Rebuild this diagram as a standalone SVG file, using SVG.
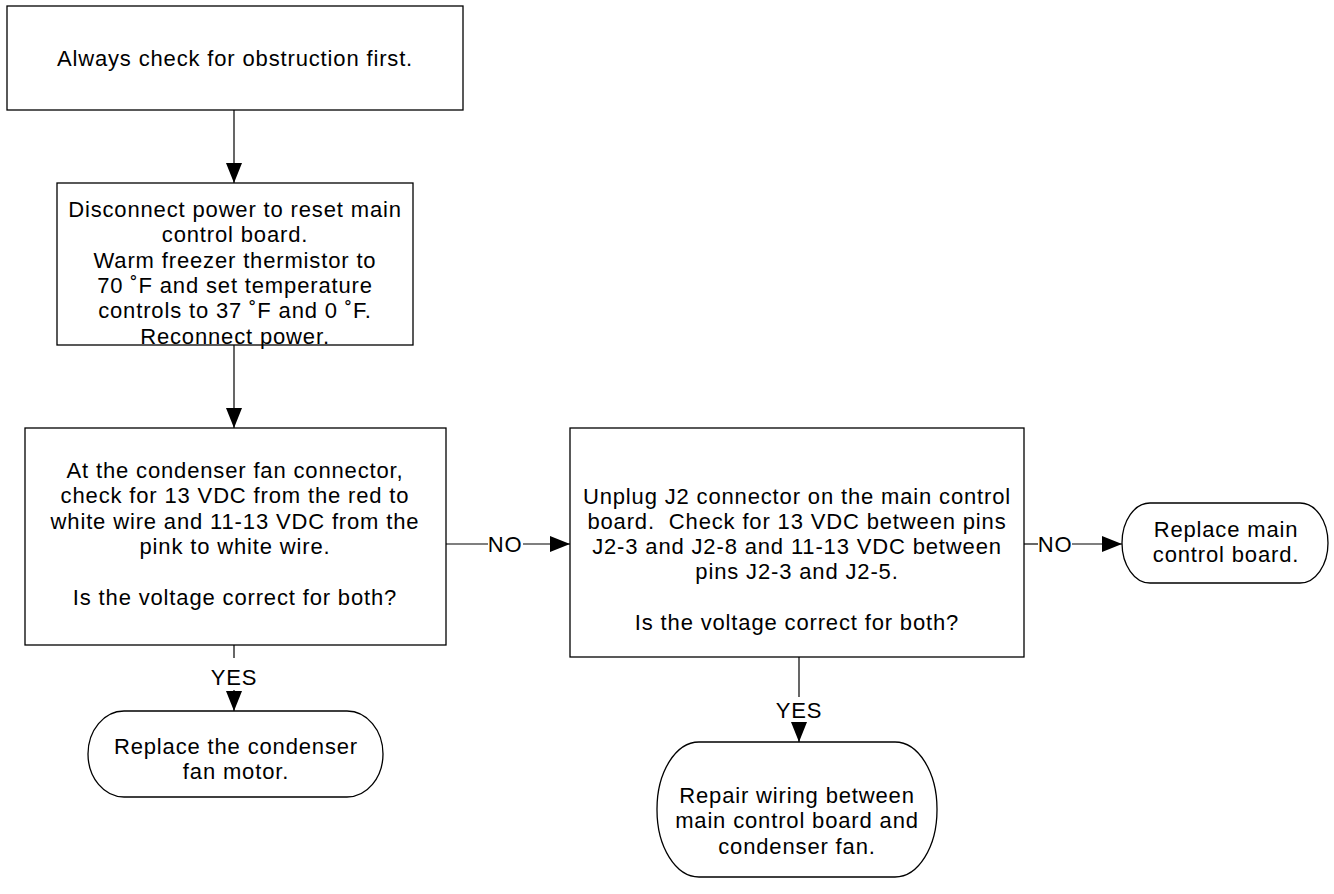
<svg xmlns="http://www.w3.org/2000/svg" width="1334" height="894" viewBox="0 0 1334 894">
<defs>
<marker id="ah" markerUnits="userSpaceOnUse" markerWidth="20" markerHeight="16" refX="20" refY="8" orient="auto">
<path d="M0,0 L20,8 L0,16 Z" fill="#000"/>
</marker>
<style>
.box{fill:#fff;stroke:#000;stroke-width:1.3}
.ln{fill:none;stroke:#000;stroke-width:1.2}
text{font-family:"Liberation Sans",Arial,sans-serif;font-size:22px;letter-spacing:0.85px;fill:#000;text-anchor:middle}
</style>
</defs>
<rect width="1334" height="894" fill="#fff"/>
<g id="connectors">
<line class="ln" x1="234" y1="110" x2="234" y2="183" marker-end="url(#ah)"/>
<line class="ln" x1="234" y1="345" x2="234" y2="428" marker-end="url(#ah)"/>
<line class="ln" x1="234" y1="645" x2="234" y2="658"/>
<text x="234" y="685">YES</text>
<line class="ln" x1="234" y1="690" x2="234" y2="711" marker-end="url(#ah)"/>
<line class="ln" x1="446" y1="544" x2="488" y2="544"/>
<text x="505" y="552">NO</text>
<line class="ln" x1="523" y1="544" x2="570" y2="544" marker-end="url(#ah)"/>
<line class="ln" x1="1024" y1="544" x2="1038" y2="544"/>
<text x="1055" y="552">NO</text>
<line class="ln" x1="1072" y1="544" x2="1122" y2="544" marker-end="url(#ah)"/>
<line class="ln" x1="799" y1="657" x2="799" y2="697"/>
<text x="799" y="718">YES</text>
<line class="ln" x1="799" y1="722" x2="799" y2="742" marker-end="url(#ah)"/>
</g>
<g id="n1">
<rect class="box" x="7" y="6" width="456" height="104"/>
<text x="235" y="66">Always check for obstruction first.</text>
</g>
<g id="n2">
<rect class="box" x="57" y="183" width="356" height="162"/>
<text x="235" y="217">Disconnect power to reset main</text>
<text x="235" y="242.3">control board.</text>
<text x="235" y="267.6">Warm freezer thermistor to</text>
<text x="235" y="292.9">70 ˚F and set temperature</text>
<text x="235" y="318.2">controls to 37 ˚F and 0 ˚F.</text>
<text x="235" y="343.5">Reconnect power.</text>
</g>
<g id="n3">
<rect class="box" x="25" y="428" width="421" height="217"/>
<text x="235" y="478">At the condenser fan connector,</text>
<text x="235" y="503.3">check for 13 VDC from the red to</text>
<text x="235" y="528.6">white wire and 11-13 VDC from the</text>
<text x="235" y="553.9">pink to white wire.</text>
<text x="235" y="604.5">Is the voltage correct for both?</text>
</g>
<g id="n4">
<rect class="box" x="570" y="428" width="454" height="229"/>
<text x="797" y="503.5">Unplug J2 connector on the main control</text>
<text x="797" y="528.8">board.&#160; Check for 13 VDC between pins</text>
<text x="797" y="554.1">J2-3 and J2-8 and 11-13 VDC between</text>
<text x="797" y="579.4">pins J2-3 and J2-5.</text>
<text x="797" y="630">Is the voltage correct for both?</text>
</g>
<g id="n5">
<rect class="box" x="88" y="711" width="295" height="86" rx="36" ry="43"/>
<text x="236" y="754">Replace the condenser</text>
<text x="236" y="779.3">fan motor.</text>
</g>
<g id="n6">
<rect class="box" x="1122" y="503" width="206" height="80" rx="28" ry="40"/>
<text x="1226" y="537">Replace main</text>
<text x="1226" y="562.3">control board.</text>
</g>
<g id="n7">
<rect class="box" x="657" y="742" width="280" height="135" rx="42" ry="67"/>
<text x="797" y="803">Repair wiring between</text>
<text x="797" y="828.3">main control board and</text>
<text x="797" y="853.6">condenser fan.</text>
</g>
</svg>
